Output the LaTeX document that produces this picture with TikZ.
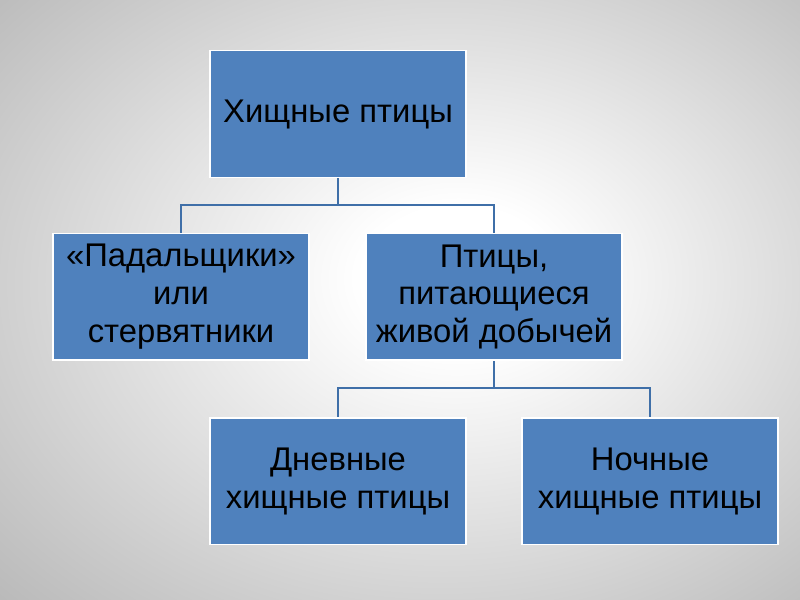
\documentclass[tikz,border=0pt]{standalone}
\usepackage{fontspec}
\setmainfont{Liberation Sans}
\usepackage{tikz}
\usetikzlibrary{positioning}
\definecolor{boxcol}{HTML}{4F81BD}
\definecolor{linecol}{HTML}{3F6FA8}
\pgfdeclareradialshading{bgshade}{\pgfpoint{4bp}{2bp}}{color(0bp)=(white); color(6bp)=(white); color(50bp)=(black!38); color(74bp)=(black!54)}

\begin{document}
\begin{tikzpicture}[x=0.75pt,y=-0.75pt,
  box/.style={draw=white,line width=1.2pt,fill=boxcol,minimum width=192pt,minimum height=95pt,align=center,
    font=\fontsize{24.6}{28.4}\selectfont,text=black,inner sep=0pt},
  conn/.style={draw=linecol,line width=1.5pt}]
  \shade[shading=bgshade] (0,0) rectangle (800,600);
  \useasboundingbox (0,0) rectangle (800,600);
  \node[box] (birds) at (338,114) {Хищные птицы};
  \node[box,below=41pt of birds,xshift=-117.75pt] (carrion) {«Падальщики»\\или\\стервятники};
  \node[box,below=41pt of birds,xshift=117pt] (live) {Птицы,\\питающиеся\\живой добычей};
  \node[box,below=42pt of live,xshift=-117pt] (day) {Дневные\\хищные птицы};
  \node[box,below=42pt of live,xshift=117pt] (night) {Ночные\\хищные птицы};
  \draw[conn] (birds.south) -- ++(0,27) -| (carrion.north);
  \draw[conn] (birds.south) -- ++(0,27) -| (live.north);
  \draw[conn] (live.south) -- ++(0,27) -| (day.north);
  \draw[conn] (live.south) -- ++(0,27) -| (night.north);
\end{tikzpicture}
\end{document}
